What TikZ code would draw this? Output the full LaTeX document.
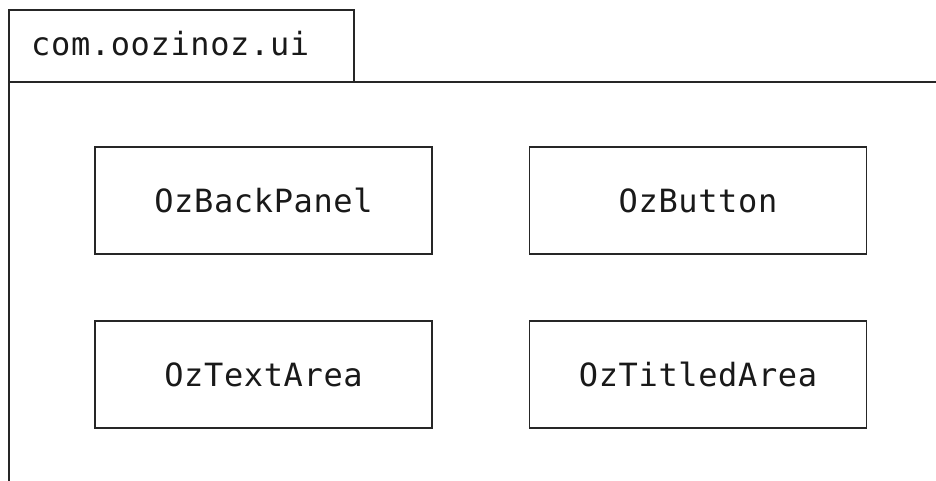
\documentclass[tikz,border=0pt]{standalone}
\usepackage{fontspec}
\newfontfamily\monofont[LetterSpace=2]{DejaVu Sans Mono}
\begin{document}
\begin{tikzpicture}[x=1pt,y=-1pt,
  line/.style={draw=black!85, line width=1.4pt},
  classbox/.style={line, rectangle, minimum width=337pt, minimum height=107pt, inner sep=0pt,
    font=\monofont\fontsize{32}{36}\selectfont, text=black!90},
  tabbox/.style={line, rectangle, minimum width=345pt, minimum height=72pt, inner sep=0pt}]
\useasboundingbox (0,0) rectangle (936,480);
\node[tabbox] (tab) at (181.5,46) {};
\node[anchor=west, inner sep=0pt, font=\monofont\fontsize{32}{36}\selectfont, text=black!90] (tabtext) at (31,44) {com.oozinoz.ui};
\coordinate (bl) at (9,481);
\coordinate (tr) at (937,82);
\draw[line] (bl) |- (tr);
\node[classbox] (backpanel) at (263.5,200.5) {OzBackPanel};
\node[classbox] (button) at (698,200.5) {OzButton};
\node[classbox] (textarea) at (263.5,374.5) {OzTextArea};
\node[classbox] (titled) at (698,374.5) {OzTitledArea};
\end{tikzpicture}
\end{document}
